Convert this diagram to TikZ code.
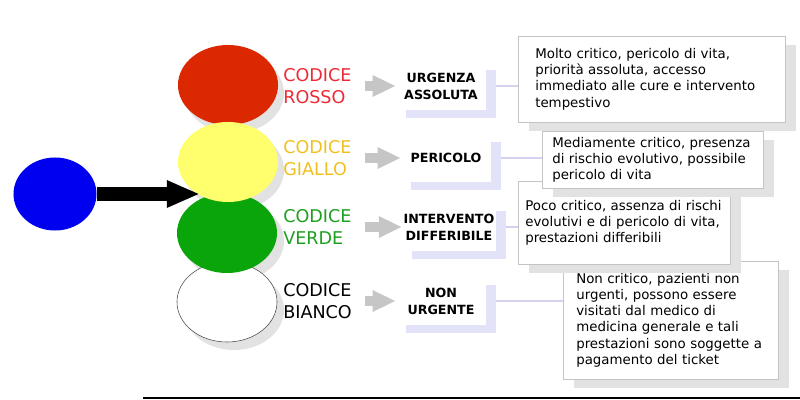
\documentclass[tikz,border=0pt]{standalone}
\usepackage{fontspec}
\setmainfont{DejaVu Sans}
\usetikzlibrary{shapes.geometric,arrows.meta,shadows,backgrounds}

\definecolor{rosso}{HTML}{DC2800}
\definecolor{giallo}{HTML}{FFFF6E}
\definecolor{verde}{HTML}{0AA50A}
\definecolor{blu}{HTML}{0000F0}
\definecolor{txtrosso}{HTML}{EE2A35}
\definecolor{txtgiallo}{HTML}{F0C020}
\definecolor{txtverde}{HTML}{1E9E1E}
\definecolor{lilla}{HTML}{E2E2F8}
\definecolor{lillalinea}{HTML}{D2D2F0}
\definecolor{ombra}{HTML}{E2E2E2}
\definecolor{bordo}{HTML}{C4C4C4}
\definecolor{freccia}{HTML}{C6C6C6}

\tikzset{
  cerchio/.style={ellipse, minimum width=2.5cm, minimum height=2cm, inner sep=0pt},
  codice/.style={anchor=west, inner sep=0pt, text width=2.025cm, align=left,
    font=\fontsize{12.5}{15.6}\selectfont},
  livello/.style={fill=white, minimum width=2.25cm, minimum height=1.2cm, inner xsep=1pt,
    align=center, font=\fontsize{9}{12}\selectfont\bfseries,
    general shadow={fill=lilla, shadow xshift=0.25cm, shadow yshift=-0.2cm}},
  nota/.style={anchor=north west, draw=bordo, fill=white, align=left,
    font=\fontsize{9.5}{11.4}\selectfont,
    general shadow={fill=ombra, shadow xshift=0.275cm, shadow yshift=-0.225cm}},
  grigia/.style={draw=freccia, line width=0.25cm, -{Triangle[length=0.575cm, width=0.5cm]}},
}

\begin{document}
\begin{tikzpicture}[x=0.025cm, y=-0.025cm]
\useasboundingbox (0,0) rectangle (800,400);

  % ombre dei semafori
\foreach \y in {85,162,233,302}
  \fill[ombra] (234,\y+8) ellipse [x radius=1.25cm, y radius=1cm];

  % semafori
\node[cerchio, fill=white, draw=black!70] (bianco) at (227,302) {};
\node[cerchio, fill=verde] (verde) at (227,233) {};
\node[cerchio, fill=rosso] (rosso) at (228,85) {};
\node[cerchio, fill=giallo] (giallo) at (228,162) {};

\node[ellipse, fill=blu, minimum width=2.075cm, minimum height=1.825cm] (ingresso) at (55,194) {};
\draw[line width=0.325cm, -{Triangle[length=0.825cm, width=0.625cm]}]
  (ingresso.east) -- (ingresso.east -| giallo.230);

  % codici
\node[codice, text=txtrosso] (cRosso) at (283,86) {CODICE\\ROSSO};
\node[codice, text=txtgiallo] (cGiallo) at (283,158) {CODICE\\GIALLO};
\node[codice, text=txtverde] (cVerde) at (283,227) {CODICE\\VERDE};
\node[codice, text=black] (cBianco) at (283,301) {CODICE\\BIANCO};

  % livelli
\node[livello] (lRosso) at (441,86) {URGENZA\\ASSOLUTA};
\node[livello] (lGiallo) at (446,158) {PERICOLO};
\node[livello] (lVerde) at (449,227) {INTERVENTO\\DIFFERIBILE};
\node[livello] (lBianco) at (441,301) {NON\\URGENTE};

\foreach \c in {Rosso,Giallo,Verde,Bianco}
  \draw[grigia] (c\c.east) -- (l\c.west);

  % descrizioni
\node[nota, text width=4.725cm, inner xsep=0.325cm, minimum height=2.95cm] (nBianco) at (563,261)
  {Non critico, pazienti non\\urgenti, possono essere\\visitati dal medico di\\medicina generale e tali\\prestazioni sono soggette a\\pagamento del ticket};
\node[nota, text width=4.95cm, inner xsep=0.175cm, minimum height=2.075cm] (nVerde) at (518,181)
  {Poco critico, assenza di rischi\\evolutivi e di pericolo di vita,\\prestazioni differibili};
\node[nota, text width=5.025cm, inner xsep=0.25cm, minimum height=1.425cm] (nGiallo) at (542,131)
  {Mediamente critico, presenza\\di rischio evolutivo, possibile\\pericolo di vita};
\node[nota, text width=5.825cm, inner xsep=0.425cm, minimum height=2.15cm] (nRosso) at (518,36)
  {Molto critico, pericolo di vita,\\priorità assoluta, accesso\\immediato alle cure e intervento\\tempestivo};

\begin{scope}[on background layer]
\foreach \c in {Rosso,Giallo,Verde,Bianco}
  \draw[lillalinea, line width=0.8pt] (l\c.east) -- (l\c.east -| n\c.west);
\end{scope}

\draw[line width=1.5pt] (143,398) -- (800,398);
\end{tikzpicture}
\end{document}
